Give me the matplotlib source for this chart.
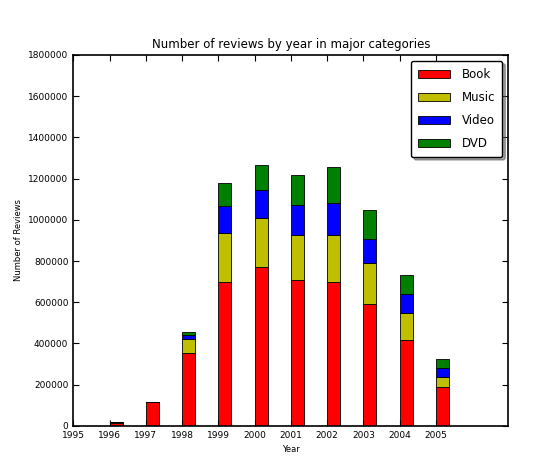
import numpy as np
import matplotlib
matplotlib.use("Agg")
import matplotlib.pyplot as plt

# review counts
years = [1995, 1996, 1997, 1998, 1999, 2000, 2001, 2002, 2003, 2004, 2005]
book = [0, 15000, 116000, 355000, 700000, 769000, 708000, 699000, 594000, 418000, 190000]
music = [0, 2000, 0, 68000, 234000, 238000, 219000, 228000, 199000, 132000, 48000]
video = [0, 1000, 0, 20000, 131000, 136000, 145000, 155000, 112000, 92000, 44000]
dvd = [0, 0, 0, 14000, 112000, 122000, 146000, 175000, 141000, 88000, 44000]

series = [("Book", book, "red"), ("Music", music, "#bfbf00"),
          ("Video", video, "blue"), ("DVD", dvd, "green")]

fig = plt.figure(figsize=(5.55, 4.66), dpi=100)
ax = fig.add_axes([0.132, 0.086, 0.784, 0.796])

x = np.array(years, dtype=float)
bottom = np.zeros(len(years))
for name, vals, color in series:
    vals = np.array(vals, dtype=float)
    ax.bar(x, vals, width=0.36, bottom=bottom, align="edge", color=color,
           edgecolor="black", linewidth=0.6, label=name)
    bottom += vals

ax.set_xlim(1995, 2007)
ax.set_ylim(0, 1800000)
ax.set_xticks(years)
ax.set_xticklabels([str(y) for y in years], fontsize=6.5)
ax.set_yticks(np.arange(0, 1800001, 200000))
ax.set_yticklabels([str(v) for v in range(0, 1800001, 200000)], fontsize=6.5)
ax.tick_params(direction="in", top=True, right=True, length=4)
for s in ax.spines.values():
    s.set_linewidth(1.2)

ax.set_title("Number of reviews by year in major categories", fontsize=8.5, pad=5)
ax.set_xlabel("Year", fontsize=6)
ax.set_ylabel("Number of Reviews", fontsize=6)

leg = ax.legend(loc="upper right", fontsize=8.5, fancybox=True, shadow=True,
                handlelength=2.7, borderpad=0.6, labelspacing=0.85,
                handletextpad=1.0, framealpha=1)
leg.get_frame().set_edgecolor("black")

fig.savefig("out.png", dpi=100, facecolor="white")
